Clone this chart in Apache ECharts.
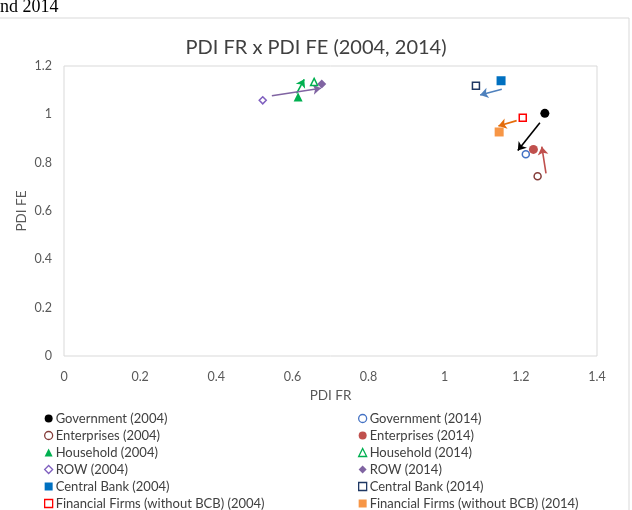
<!DOCTYPE html>
<html>
<head>
<meta charset="utf-8">
<script src="https://cdn.jsdelivr.net/npm/echarts@6/dist/echarts.min.js"></script>
<style>
  html, body { margin: 0; padding: 0; background: #fff; }
  #chart { width: 632px; height: 510px; }
</style>
</head>
<body>
<div id="chart"></div>
<script>
// sectors, PDI FR (x) and PDI FE (y) for both years
const sectors = ['Government', 'Enterprises', 'Household', 'ROW', 'Central Bank', 'Financial Firms (without BCB)']
const fr2004 = [1.263, 1.244, 0.615, 0.522, 1.148, 1.205]
const fe2004 = [1.004, 0.744, 1.072, 1.058, 1.139, 0.986]
const fr2014 = [1.213, 1.233, 0.657, 0.677, 1.082, 1.143]
const fe2014 = [0.835, 0.855, 1.134, 1.126, 1.118, 0.927]

// arrows (start x, start y, end x, end y) - drawn a bit off the markers like in the original
const arrowFromX = [1.250, 1.266, 0.611, 0.546, 1.150, 1.189]
const arrowFromY = [0.965, 0.756, 1.087, 1.077, 1.104, 0.974]
const arrowToX = [1.192, 1.255, 0.631, 0.675, 1.093, 1.141]
const arrowToY = [0.850, 0.866, 1.145, 1.108, 1.080, 0.952]

const xTicks = [0, 0.2, 0.4, 0.6, 0.8, 1, 1.2, 1.4]
const yTicks = [0, 0.2, 0.4, 0.6, 0.8, 1, 1.2]

// marker look per sector
const symbols = ['circle', 'circle', 'triangle', 'diamond', 'rect', 'rect']
const hollow2004 = [false, true, false, true, false, true]
const hollow2014 = [true, false, true, false, true, false]
const colors2004 = ['#000000', '#843C39', '#00B050', '#7F5FBF', '#0070C0', '#FF0000']
const colors2014 = ['#4472C4', '#C0504D', '#00B050', '#8064A2', '#1F3864', '#F79646']
const arrowColors = ['#000000', '#C0504D', '#00B050', '#8064A2', '#4F81BD', '#E46C0A']

const font = 'Lato, "Open Sans", sans-serif'

function makeSeries(name, x, y, symbol, hollow, color) {
  return {
    name: name,
    type: 'scatter',
    symbol: symbol,
    symbolSize: hollow ? 7 : 9,
    data: [[x, y]],
    itemStyle: hollow
      ? { color: '#fff', borderColor: color, borderWidth: 1.5, opacity: 1 }
      : { color: color, opacity: 1 },
    z: 3
  }
}

const series = []
const legendLeft = []
const legendRight = []
sectors.forEach((s, i) => {
  const n1 = s + ' (2004)'
  const n2 = s + ' (2014)'
  legendLeft.push({ name: n1, itemStyle: hollow2004[i] ? { borderWidth: 1.3 } : {} })
  legendRight.push({ name: n2, itemStyle: hollow2014[i] ? { borderWidth: 1.3 } : {} })
  series.push(makeSeries(n1, fr2004[i], fe2004[i], symbols[i], hollow2004[i], colors2004[i]))
  series.push(makeSeries(n2, fr2014[i], fe2014[i], symbols[i], hollow2014[i], colors2014[i]))
})

series.push({
  type: 'lines',
  coordinateSystem: 'cartesian2d',
  symbol: ['none', 'arrow'],
  symbolSize: 8,
  silent: true,
  z: 2,
  data: sectors.map((s, i) => ({
    coords: [[arrowFromX[i], arrowFromY[i]], [arrowToX[i], arrowToY[i]]],
    lineStyle: { color: arrowColors[i], width: 1.6, opacity: 1 }
  }))
})

const legendBase = {
  orient: 'vertical',
  top: 410,
  height: 110,
  padding: 0,
  itemWidth: 8,
  itemHeight: 8,
  itemGap: 0,
  selectedMode: false,
  textStyle: { fontFamily: font, fontSize: 13, color: '#404040', lineHeight: 17, padding: [0, 0, 0, -2] }
}

const chart = echarts.init(document.getElementById('chart'))
chart.setOption({
  animation: false,
  backgroundColor: '#fff',
  title: {
    text: 'PDI FR x PDI FE (2004, 2014)',
    left: 'center',
    top: 33,
    textStyle: { fontFamily: font, fontSize: 20, fontWeight: 'normal', color: '#404040' }
  },
  graphic: [
    {
      type: 'text',
      left: 0,
      top: -2,
      style: { text: 'nd 2014', font: '18px "Liberation Serif", serif', fill: '#000' }
    },
    {
      type: 'rect',
      shape: { x: -2, y: 18, width: 631, height: 500 },
      style: { fill: 'none', stroke: '#D9D9D9', lineWidth: 1 },
      z: -1
    }
  ],
  legend: [
    Object.assign({}, legendBase, { left: 44, data: legendLeft }),
    Object.assign({}, legendBase, { left: 358, data: legendRight })
  ],
  grid: {
    left: 64,
    top: 66,
    right: 35,
    bottom: 154,
    show: true,
    borderColor: '#D9D9D9',
    borderWidth: 1
  },
  xAxis: {
    type: 'value',
    min: xTicks[0],
    max: xTicks[xTicks.length - 1],
    interval: 0.2,
    name: 'PDI FR',
    nameLocation: 'middle',
    nameGap: 33,
    nameTextStyle: { fontFamily: font, fontSize: 13.5, color: '#595959' },
    axisLine: { show: false },
    axisTick: { show: false },
    splitLine: { show: false },
    axisLabel: { margin: 14, fontFamily: font, fontSize: 12.5, color: '#595959' }
  },
  yAxis: {
    type: 'value',
    min: yTicks[0],
    max: yTicks[yTicks.length - 1],
    interval: 0.2,
    name: 'PDI FE',
    nameLocation: 'middle',
    nameMoveOverlap: false,
    nameGap: 35,
    nameTextStyle: { fontFamily: font, fontSize: 13.5, color: '#595959' },
    axisLine: { show: false },
    axisTick: { show: false },
    splitLine: { show: false },
    axisLabel: { margin: 12, fontFamily: font, fontSize: 12.5, color: '#595959' }
  },
  series: series
})
</script>
</body>
</html>
